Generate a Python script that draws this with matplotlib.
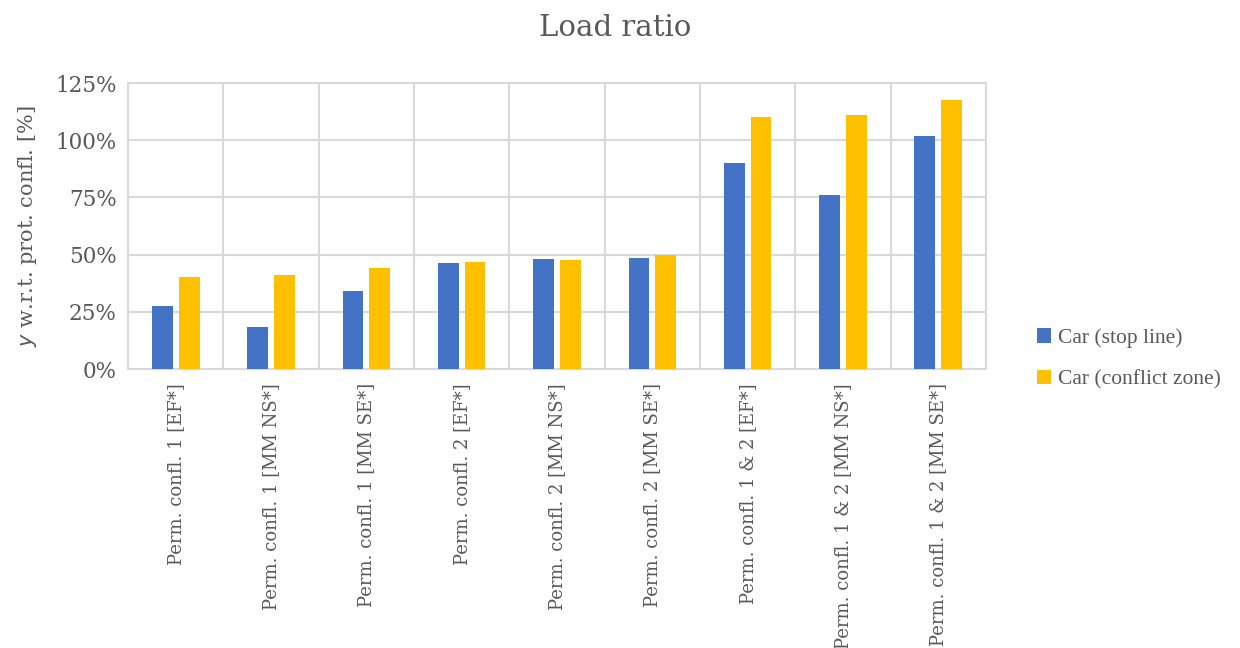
import matplotlib.pyplot as plt
import numpy as np
from matplotlib.ticker import FixedLocator

categories = ['Perm. confl. 1 [EF*]', 'Perm. confl. 1 [MM NS*]', 'Perm. confl. 1 [MM SE*]',
              'Perm. confl. 2 [EF*]', 'Perm. confl. 2 [MM NS*]', 'Perm. confl. 2 [MM SE*]',
              'Perm. confl. 1 & 2 [EF*]', 'Perm. confl. 1 & 2 [MM NS*]', 'Perm. confl. 1 & 2 [MM SE*]']
stop_line = [27.4, 18.4, 34.2, 46.5, 47.9, 48.6, 89.9, 76.2, 102.0]
conflict_zone = [40.2, 41.1, 44.0, 46.9, 47.6, 50.0, 110.0, 111.1, 117.7]
yticks = [0, 25, 50, 75, 100, 125]

txt = '#595959'
grid = '#D9D9D9'
plt.rcParams['font.family'] = ['DejaVu Serif']

fig = plt.figure(figsize=(12.4, 6.48), dpi=100)
ax = fig.add_axes([128/1240, 1-369/648, (986-128)/1240, (369-83)/648])

x = np.arange(len(categories))
w = 0.22
ax.bar(x - 0.14, stop_line, w, color='#4472C4', label='Car (stop line)', zorder=3)
ax.bar(x + 0.14, conflict_zone, w, color='#FFC000', label='Car (conflict zone)', zorder=3)

ax.set_xlim(-0.5, len(categories) - 0.5)
ax.set_ylim(0, 125)
ax.set_yticks(yticks)
ax.set_yticklabels([f'{v}%' for v in yticks], fontsize=15.5, color=txt)
ax.set_xticks(x)
ax.set_xticklabels(categories, rotation=90, fontsize=13, color=txt)
ax.xaxis.set_minor_locator(FixedLocator(np.arange(-0.5, len(categories), 1)))
ax.tick_params(axis='both', which='both', length=0)
ax.tick_params(axis='y', pad=8)
ax.tick_params(axis='x', pad=10)
ax.grid(axis='y', color=grid, lw=1.5, zorder=0)
ax.grid(axis='x', which='minor', color=grid, lw=1.5, zorder=0)
for s in ax.spines.values():
    s.set_color(grid)
    s.set_linewidth(1.5)

ax.set_ylabel('$y$ w.r.t. prot. confl. [%]', fontsize=15, color=txt, labelpad=12)
fig.text(615/1240, 1-28/648, 'Load ratio', ha='center', va='center', fontsize=21, color=txt)

fig.legend(loc='center left', bbox_to_anchor=(1018/1240, 1-359/648), frameon=False,
           prop={'family': 'Liberation Serif', 'size': 15.5}, labelcolor=txt,
           handlelength=0.65, handleheight=0.65, handletextpad=0.3, labelspacing=1.0)

fig.savefig('out.png', dpi=100)
